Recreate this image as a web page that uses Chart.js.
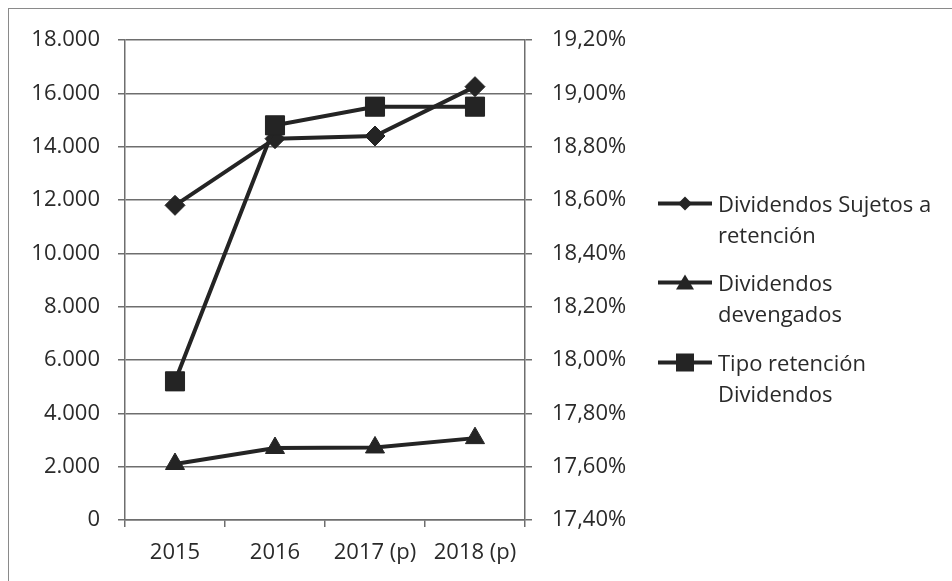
<!DOCTYPE html>
<html>
<head>
<meta charset="utf-8">
<script src="https://cdn.jsdelivr.net/npm/chart.js@4/dist/chart.umd.min.js"></script>
<style>
  html, body { margin: 0; padding: 0; background: #fff; overflow: hidden; }
  #wrap { position: relative; width: 952px; height: 581px; overflow: hidden; }
  #frame { position: absolute; left: 8px; top: 8px; width: 980px; height: 620px; border: 1.5px solid #8a8a8a; box-sizing: border-box; }
  canvas { position: absolute; left: 0; top: 0; }
  #legend { position: absolute; left: 658px; top: 0; font-family: "Open Sans", sans-serif; font-size: 22px; color: #2a2a2a; }
  .item { position: absolute; left: 0; white-space: nowrap; }
  .item svg { position: absolute; left: 0; top: 0; }
  .item .txt { position: absolute; left: 60px; top: 0; line-height: 31px; }
</style>
</head>
<body>
<div id="wrap">
  <div id="frame"></div>
  <canvas id="c" width="952" height="581"></canvas>
  <div id="legend"></div>
</div>
<script>
// ---- data ----
const categories = ['2015', '2016', '2017 (p)', '2018 (p)'];
const sujetosRetencion = [11800, 14300, 14400, 16250];
const devengados = [2100, 2700, 2720, 3070];
const tipoRetencion = [17.92, 18.88, 18.95, 18.95];
const seriesNames = [
  ['Dividendos Sujetos a', 'retención'],
  ['Dividendos', 'devengados'],
  ['Tipo retención', 'Dividendos']
];
const leftTicks = [0, 2000, 4000, 6000, 8000, 10000, 12000, 14000, 16000, 18000];
const rightTicks = [17.4, 17.6, 17.8, 18.0, 18.2, 18.4, 18.6, 18.8, 19.0, 19.2];

const INK = '#242424';
const GRID = '#6e6e6e';
const TEXT = '#2a2a2a';
const FONT = { family: "'Open Sans', sans-serif", size: 22 };

function fmtThousands(v) {
  const s = Math.round(v).toString();
  return s.replace(/\B(?=(\d{3})+(?!\d))/g, '.');
}
function fmtPct(v) {
  return v.toFixed(2).replace('.', ',') + '%';
}

const ctx = document.getElementById('c').getContext('2d');
new Chart(ctx, {
  type: 'line',
  data: {
    labels: categories,
    datasets: [
      {
        label: seriesNames[2].join(' '),
        data: tipoRetencion,
        yAxisID: 'y1',
        order: 0,
        borderColor: INK, backgroundColor: INK, borderWidth: 4,
        pointStyle: 'rect', pointRadius: 13.5, pointBorderWidth: 1,
        pointBackgroundColor: INK, pointBorderColor: INK, tension: 0
      },
      {
        label: seriesNames[0].join(' '),
        data: sujetosRetencion,
        yAxisID: 'y',
        order: 1,
        borderColor: INK, backgroundColor: INK, borderWidth: 4,
        pointStyle: 'rectRot', pointRadius: 10, pointBorderWidth: 1,
        pointBackgroundColor: INK, pointBorderColor: INK, tension: 0
      },
      {
        label: seriesNames[1].join(' '),
        data: devengados,
        yAxisID: 'y',
        order: 2,
        borderColor: INK, backgroundColor: INK, borderWidth: 4,
        pointStyle: 'triangle', pointRadius: 11, pointBorderWidth: 1,
        pointBackgroundColor: INK, pointBorderColor: INK, tension: 0
      }
    ]
  },
  options: {
    responsive: false,
    animation: false,
    layout: { padding: { left: 0, right: 307, top: 40, bottom: 16 } },
    plugins: { legend: { display: false }, tooltip: { enabled: false } },
    scales: {
      x: {
        type: 'category',
        offset: true,
        grid: { offset: true, drawOnChartArea: false, drawTicks: true, tickLength: 7, color: GRID, lineWidth: 1.5 },
        border: { display: true, color: GRID, width: 1.5 },
        ticks: { font: FONT, color: TEXT, padding: 13, maxRotation: 0, autoSkip: false },
        afterFit: s => { s.height = 45; }
      },
      y: {
        position: 'left',
        min: leftTicks[0], max: leftTicks[leftTicks.length - 1],
        afterBuildTicks: s => { s.ticks = leftTicks.map(v => ({ value: v })); },
        grid: { color: GRID, lineWidth: 1.5, tickLength: 7 },
        border: { display: true, color: GRID, width: 1.5 },
        ticks: { font: FONT, color: TEXT, padding: 18, callback: v => fmtThousands(v) },
        afterFit: s => { s.width = 125; }
      },
      y1: {
        position: 'right',
        min: rightTicks[0], max: rightTicks[rightTicks.length - 1],
        afterBuildTicks: s => { s.ticks = rightTicks.map(v => ({ value: v })); },
        grid: { drawOnChartArea: false, color: GRID, lineWidth: 1.5, tickLength: 7 },
        border: { display: true, color: GRID, width: 1.5 },
        ticks: { font: FONT, color: TEXT, padding: 20, callback: v => fmtPct(v) },
        afterFit: s => { s.width = 120; }
      }
    }
  }
});

// ---- HTML legend ----
const legendMarkers = [
  '<polygon points="27,-7 34,0 27,7 20,0" fill="' + INK + '"/>',
  '<polygon points="27,-8 36,7 18,7" fill="' + INK + '"/>',
  '<rect x="18" y="-9" width="18" height="18" fill="' + INK + '"/>'
];
const legendTops = [203, 282.5, 362];
const legendEl = document.getElementById('legend');
seriesNames.forEach((lines, i) => {
  const item = document.createElement('div');
  item.className = 'item';
  item.style.top = (legendTops[i] - 15.5) + 'px';
  item.innerHTML =
    '<svg width="56" height="31" viewBox="0 -15.5 56 31">' +
    '<line x1="0" y1="0" x2="54" y2="0" stroke="' + INK + '" stroke-width="4"/>' +
    legendMarkers[i] + '</svg>' +
    '<div class="txt">' + lines.join('<br>') + '</div>';
  legendEl.appendChild(item);
});
</script>
</body>
</html>
